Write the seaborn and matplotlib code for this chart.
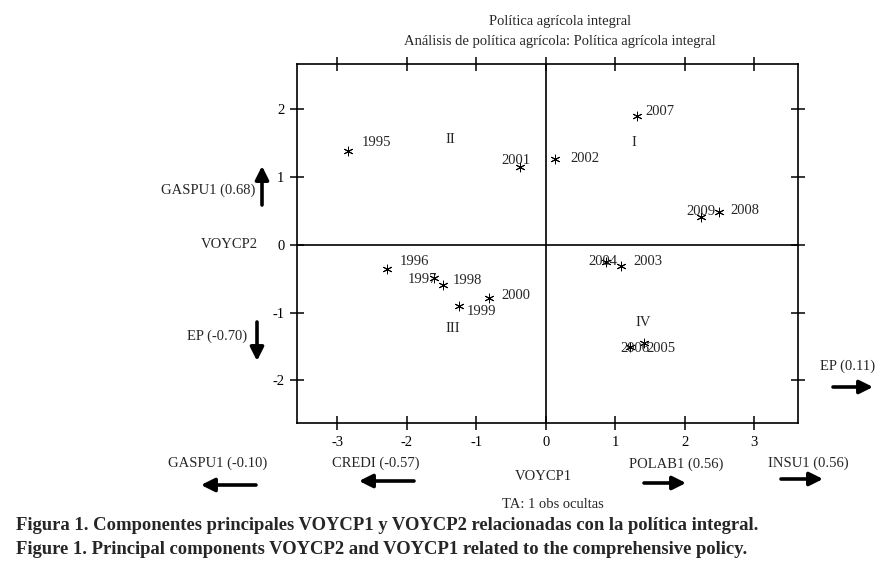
import seaborn as sns
import matplotlib.pyplot as plt
import pandas as pd

# component scores
years = ['1995', '1996', '1997', '1998', '1999', '2000', '2001', '2002',
         '2003', '2004', '2005', '2006', '2007', '2008', '2009']
voycp1 = [-2.85, -2.29, -1.61, -1.48, -1.25, -0.81, -0.37, 0.13,
          1.08, 0.87, 1.42, 1.21, 1.31, 2.49, 2.23]
voycp2 = [1.39, -0.35, -0.49, -0.59, -0.91, -0.78, 1.15, 1.27,
          -0.31, -0.26, -1.45, -1.51, 1.90, 0.49, 0.41]

quadrants = ['I', 'II', 'III', 'IV']
quad_x = [1.27, -1.38, -1.34, 1.40]
quad_y = [1.51, 1.56, -1.24, -1.15]

xticks = [-3, -2, -1, 0, 1, 2, 3]
yticks = [-2, -1, 0, 1, 2]

# label offsets in pixels (dx, dy) for each year
offsets = {
    '1995': (29, 8), '1996': (28, 7), '1997': (-11, -1), '1998': (24, 4),
    '1999': (23, -5), '2000': (26, 2), '2001': (-4, 6), '2002': (30, 0),
    '2003': (27, 4), '2004': (-3, 1), '2005': (17, -5), '2006': (5, -1),
    '2007': (23, 5), '2008': (26, 1), '2009': (0, 6),
}

df = pd.DataFrame({'year': years, 'VOYCP1': voycp1, 'VOYCP2': voycp2})

sns.set_style('ticks')
plt.rcParams['font.family'] = ['Liberation Serif', 'DejaVu Serif']

fig, ax = plt.subplots(figsize=(8.83, 5.67), dpi=100)
fig.subplots_adjust(left=297/883, right=798/883, top=1-64/567, bottom=1-423/567)

ax.axhline(0, color='black', lw=1.2, zorder=1)
ax.axvline(0, color='black', lw=1.2, zorder=1)

sns.scatterplot(data=df, x='VOYCP1', y='VOYCP2', marker=(6, 2, 0), s=40,
                color='black', linewidth=0.7, ax=ax, zorder=3)

for yr, x, y in zip(years, voycp1, voycp2):
    dx, dy = offsets[yr]
    ax.annotate(yr, (x, y), xytext=(dx, dy), textcoords='offset pixels',
                ha='center', va='center', fontsize=10.5)

for q, x, y in zip(quadrants, quad_x, quad_y):
    ax.text(x, y, q, ha='center', va='center', fontsize=10.5)

ax.set_xlim(-3.58, 3.63)
ax.set_ylim(-2.63, 2.67)
ax.set_xticks(xticks)
ax.set_yticks(yticks)
ax.set_xticklabels([str(t) for t in xticks], fontsize=10.5)
ax.set_yticklabels([str(t) for t in yticks], fontsize=10.5)
ax.tick_params(direction='inout', length=10, width=1.1, top=True, right=True,
               labeltop=False, labelright=False, pad=4, colors='black')
for sp in ax.spines.values():
    sp.set_color('black')
    sp.set_linewidth(1.2)
ax.set_xlabel('')
ax.set_ylabel('')


def ftext(x, y, s, **kw):
    kw.setdefault('fontsize', 10.5)
    fig.text(x / 883, 1 - y / 567, s, **kw)


def farrow(x0, y0, x1, y1):
    ax.annotate('', xy=(x1, 567 - y1), xytext=(x0, 567 - y0),
                xycoords='figure pixels', textcoords='figure pixels',
                arrowprops=dict(arrowstyle='-|>', lw=2.6, color='black',
                                mutation_scale=20, shrinkA=0, shrinkB=0),
                annotation_clip=False)


ftext(560, 22, 'Política agrícola integral', ha='center', va='center')
ftext(560, 42, 'Análisis de política agrícola: Política agrícola integral',
      ha='center', va='center')

ftext(258, 245, 'VOYCP2', ha='right', va='center')
ftext(543, 477, 'VOYCP1', ha='center', va='center')
ftext(553, 505, 'TA: 1 obs ocultas', ha='center', va='center')

ftext(255, 190, 'GASPU1 (0.68)', ha='right', va='center')
farrow(262, 205, 262, 166)
ftext(247, 336, 'EP (-0.70)', ha='right', va='center')
farrow(257, 322, 257, 361)

ftext(218, 463, 'GASPU1 (-0.10)', ha='center', va='center')
farrow(256, 485, 201, 485)
ftext(376, 463, 'CREDI (-0.57)', ha='center', va='center')
farrow(414, 481, 359, 481)
ftext(676, 464, 'POLAB1 (0.56)', ha='center', va='center')
farrow(644, 483, 686, 483)
ftext(808, 463, 'INSU1 (0.56)', ha='center', va='center')
farrow(781, 479, 823, 479)
ftext(848, 366, 'EP (0.11)', ha='center', va='center')
farrow(833, 387, 873, 387)

cap_font = ['Liberation Serif', 'DejaVu Serif']
ftext(16, 525, 'Figura 1. Componentes principales VOYCP1 y VOYCP2 relacionadas con la política integral.',
      ha='left', va='center', fontsize=13.4, fontweight='bold', family=cap_font)
ftext(16, 550, 'Figure 1. Principal components VOYCP2 and VOYCP1 related to the comprehensive policy.',
      ha='left', va='center', fontsize=13.4, fontweight='bold', family=cap_font)

fig.savefig('out.png', dpi=100)
